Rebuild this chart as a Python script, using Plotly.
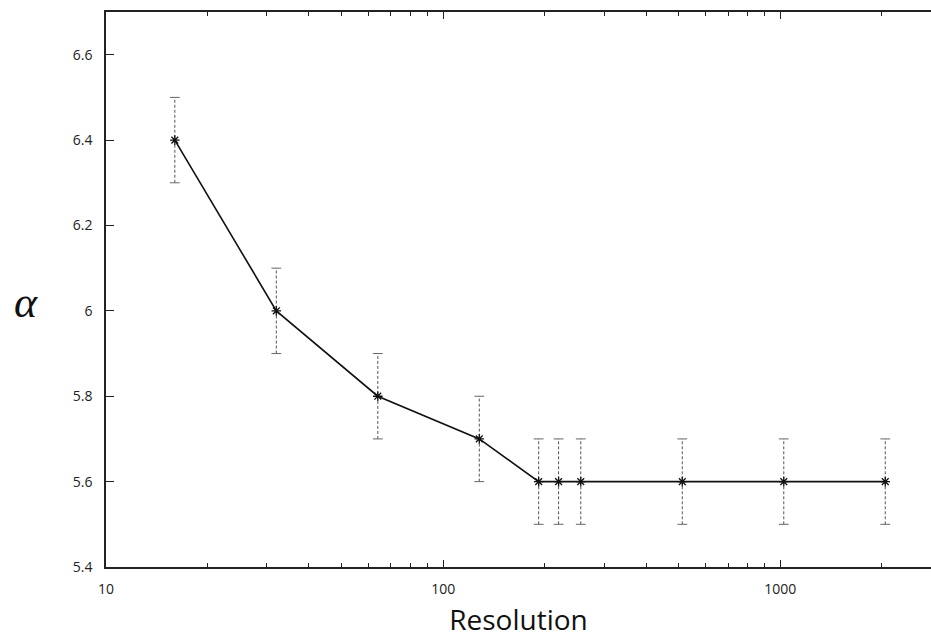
import plotly.graph_objects as go

resolution = [16, 32, 64, 128, 192, 220, 256, 512, 1024, 2048]
alpha = [6.4, 6.0, 5.8, 5.7, 5.6, 5.6, 5.6, 5.6, 5.6, 5.6]
err = [0.1, 0.1, 0.1, 0.1, 0.1, 0.1, 0.1, 0.1, 0.1, 0.1]

fig = go.Figure()

# dashed error bars
ex, ey = [], []
for x, y, e in zip(resolution, alpha, err):
    ex += [x, x, None]
    ey += [y - e, y + e, None]
fig.add_trace(go.Scatter(x=ex, y=ey, mode="lines",
                         line=dict(color="#555555", width=1, dash="3px,2px"),
                         hoverinfo="skip", showlegend=False))
# caps
cx, cy = [], []
for x, y, e in zip(resolution, alpha, err):
    cx += [x, x]
    cy += [y - e, y + e]
fig.add_trace(go.Scatter(x=cx, y=cy, mode="markers",
                         marker=dict(symbol="line-ew", size=7,
                                     line=dict(color="#666666", width=1)),
                         hoverinfo="skip", showlegend=False))

fig.add_trace(go.Scatter(x=resolution, y=alpha, mode="lines+markers",
                         line=dict(color="#111111", width=1.6),
                         marker=dict(symbol="asterisk", size=8,
                                     line=dict(color="#111111", width=1.3)),
                         showlegend=False))

fig.update_layout(
    width=931, height=641,
    margin=dict(l=106, r=0, t=12, b=74, autoexpand=False),
    plot_bgcolor="white", paper_bgcolor="white",
    font=dict(family="Open Sans, sans-serif", color="#222222", size=14),
    xaxis=dict(
        type="log", range=[1, 3.447], automargin=False,
        tickvals=[10, 100, 1000], ticktext=["10", "100", "1000"],
        ticks="inside", ticklen=7, tickwidth=1.2, tickcolor="#222222",
        minor=dict(ticks="inside", ticklen=4, tickwidth=1, tickcolor="#222222",
                   tickvals=[20, 30, 40, 50, 60, 70, 80, 90,
                             200, 300, 400, 500, 600, 700, 800, 900, 2000]),
        showline=True, linecolor="#222222", linewidth=1.5, mirror="ticks",
        showgrid=False, zeroline=False,
        tickfont=dict(size=14), ticklabelstandoff=8,
        title=dict(text="Resolution", font=dict(size=28, color="#111111"), standoff=14),
    ),
    yaxis=dict(
        range=[5.4, 6.7], automargin=False,
        tickvals=[5.4, 5.6, 5.8, 6.0, 6.2, 6.4, 6.6],
        ticktext=["5.4", "5.6", "5.8", "6", "6.2", "6.4", "6.6"],
        ticks="inside", ticklen=8, tickwidth=1.2, tickcolor="#222222",
        showline=True, linecolor="#222222", linewidth=1.5,
        showgrid=False, zeroline=False,
        tickfont=dict(size=14), ticklabelstandoff=9,
    ),
    annotations=[dict(text="<i>α</i>", xref="paper", yref="y", x=(26 - 106) / 825, y=6.02,
                      showarrow=False, xanchor="center", yanchor="middle",
                      font=dict(family="Liberation Serif, serif", size=44, color="#111111"),
                      )],
)

fig.write_html("out.html", config={"displayModeBar": False},
               post_script="document.body.style.margin='0';")
